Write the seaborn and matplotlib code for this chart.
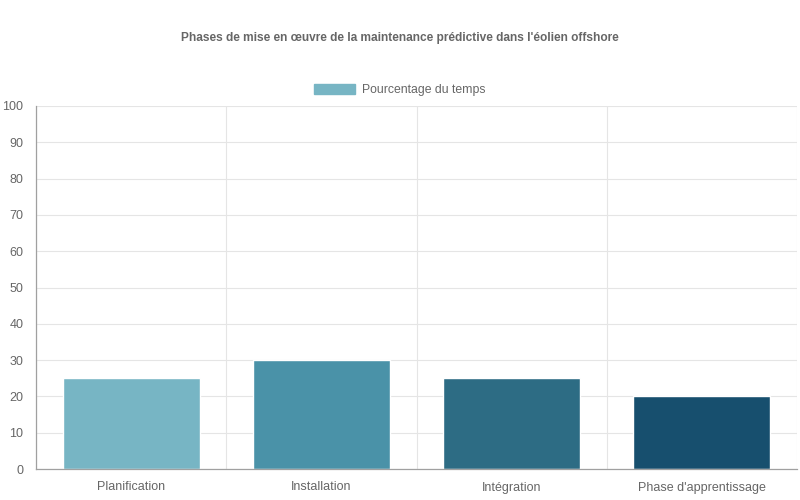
import matplotlib
matplotlib.use("Agg")
import matplotlib.pyplot as plt
from matplotlib.patches import Patch
import seaborn as sns
import pandas as pd

categories = ["Planification", "Installation", "Intégration", "Phase d'apprentissage"]
values = [25, 30, 25, 20]
colors = ["#77B5C4", "#4A92A8", "#2D6C84", "#174F6E"]
series_label = "Pourcentage du temps"
title = "Phases de mise en œuvre de la maintenance prédictive dans l'éolien offshore"
y_ticks = list(range(0, 101, 10))

sns.set_theme(style="white")
plt.rcParams['font.family'] = ['Liberation Sans', 'DejaVu Sans']

df = pd.DataFrame({"phase": categories, "pct": values})

fig = plt.figure(figsize=(8, 5), dpi=100)
ax = fig.add_axes([36/800, 1 - 469/500, (797 - 36)/800, (469 - 106)/500])

sns.barplot(data=df, x="phase", y="pct", hue="phase", palette=colors,
            legend=False, width=0.72, ax=ax, saturation=1)

ax.set_xlim(-0.5, len(categories) - 0.5)
ax.set_ylim(0, 100)
ax.set_yticks(y_ticks)
ax.set_xlabel("")
ax.set_ylabel("")

grid_c = "#e5e5e5"
axis_c = "#a0a0a0"
ax.set_xticks([i + 0.5 for i in range(-1, len(categories))], minor=True)
ax.grid(True, axis="y", color=grid_c, linewidth=0.8)
ax.grid(True, axis="x", which="minor", color=grid_c, linewidth=0.8)
ax.set_axisbelow(True)

ax.tick_params(axis="x", which="major", length=0, pad=9, labelsize=9, labelcolor="#666666")
ax.tick_params(axis="x", which="minor", length=10, color=grid_c, width=0.8)
ax.tick_params(axis="y", length=6, color=grid_c, width=0.8, pad=3, labelsize=9, labelcolor="#666666")

for s in ["top", "right"]:
    ax.spines[s].set_visible(False)
for s in ["left", "bottom"]:
    ax.spines[s].set_color(axis_c)
    ax.spines[s].set_linewidth(0.9)

fig.text(0.5, 1 - 37.5/500, title, ha="center", va="center", fontsize=8.6,
         fontweight="bold", color="#666666")

handle = Patch(facecolor=colors[0], edgecolor=colors[0], label=series_label)
fig.legend(handles=[handle], loc="center", bbox_to_anchor=(0.5, 1 - 90/500),
           frameon=False, fontsize=8.8, labelcolor="#666666",
           handlelength=3.3, handleheight=0.85, handletextpad=0.6)

fig.savefig("out.png", dpi=100)
